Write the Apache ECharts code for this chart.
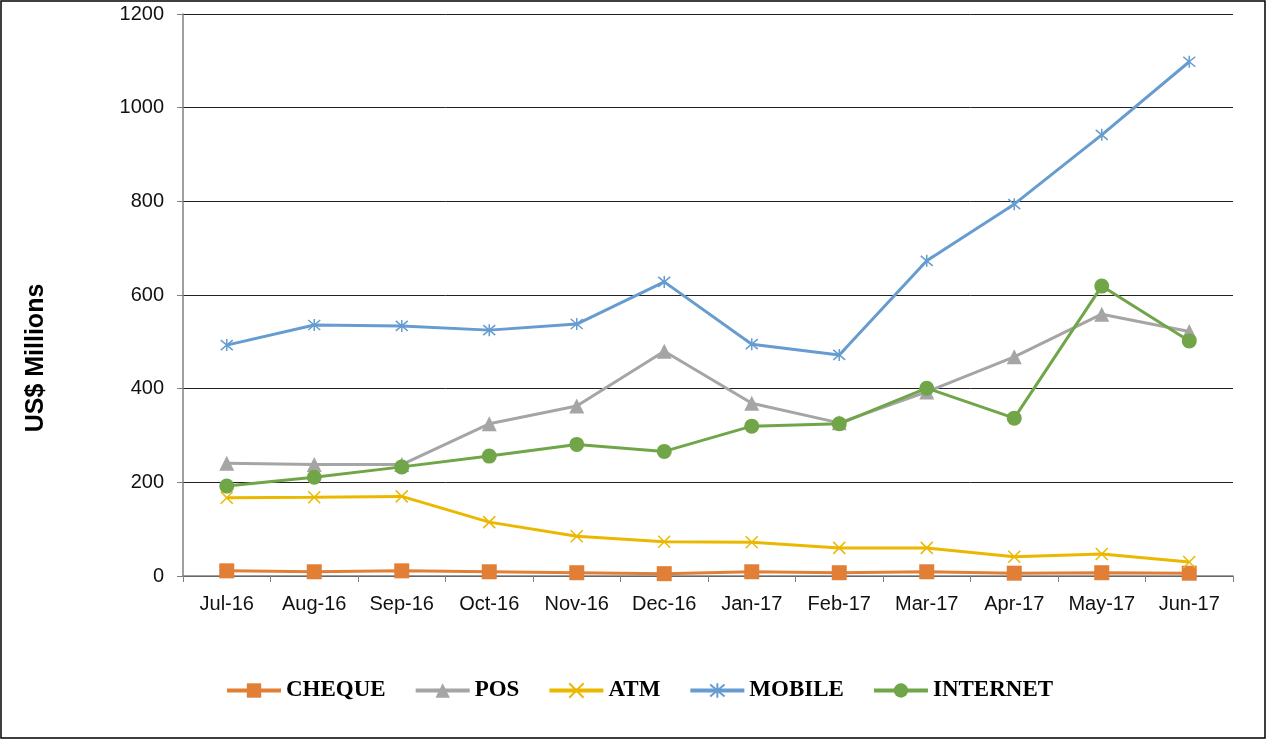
<!DOCTYPE html>
<html>
<head>
<meta charset="utf-8">
<script src="https://cdn.jsdelivr.net/npm/echarts@6/dist/echarts.min.js"></script>
<style>
  html, body { margin: 0; padding: 0; background: #fff; }
  #chart { width: 1267px; height: 740px; }
</style>
</head>
<body>
<div id="chart"></div>
<script>
// months on the x axis
const months = ['Jul-16', 'Aug-16', 'Sep-16', 'Oct-16', 'Nov-16', 'Dec-16',
  'Jan-17', 'Feb-17', 'Mar-17', 'Apr-17', 'May-17', 'Jun-17'];

// values in US$ millions
const cheque = [11, 9, 11, 9, 7, 5, 9, 7, 9, 6, 7, 6];
const pos = [241, 238, 238, 325, 363, 480, 369, 327, 393, 468, 559, 522];
const atm = [167, 168, 170, 115, 85, 73, 72, 60, 60, 41, 47, 30];
const mobile = [493, 536, 534, 525, 538, 628, 495, 472, 673, 794, 942, 1098];
const internet = [192, 211, 233, 256, 281, 266, 320, 325, 401, 337, 619, 502];

const xMark = 'path://M0,0L10,10M10,0L0,10';
const starMark = 'path://M0,0L10,10M10,0L0,10M5,-1L5,11';

const chart = echarts.init(document.getElementById('chart'));

function lineSeries(name, data, color, symbol, size, stroke) {
  const s = {
    name: name,
    type: 'line',
    data: data,
    symbol: symbol,
    symbolSize: size,
    showAllSymbol: true,
    lineStyle: { color: color, width: 3 },
    itemStyle: { color: color },
    emphasis: { disabled: true }
  };
  if (stroke) {
    s.itemStyle = { color: 'none', borderColor: color, borderWidth: 1.5 };
  }
  return s;
}

const option = {
  animation: false,
  grid: { left: 183, right: 34, top: 14, bottom: 164 },
  graphic: [{
    type: 'rect',
    shape: { x: 1, y: 1, width: 1264, height: 737 },
    style: { fill: 'none', stroke: '#000', lineWidth: 1.5 }
  }, {
    type: 'text',
    x: 36,
    y: 358,
    rotation: Math.PI / 2,
    style: {
      text: 'US$ Millions',
      font: 'bold 25px Arial, "Liberation Sans"',
      fill: '#000',
      align: 'center',
      verticalAlign: 'middle'
    }
  }],
  legend: {
    left: 220,
    top: 674,
    itemWidth: 54,
    itemHeight: 18,
    itemGap: 28,
    lineStyle: { width: 4 },
    textStyle: {
      fontFamily: 'Liberation Serif',
      fontWeight: 'bold',
      fontSize: 23,
      color: '#000'
    },
    data: ['CHEQUE', 'POS', 'ATM', 'MOBILE', 'INTERNET']
  },
  xAxis: {
    type: 'category',
    data: months,
    boundaryGap: true,
    axisLine: { lineStyle: { color: '#7f7f7f', width: 1.5 } },
    axisTick: { show: true, length: 6, lineStyle: { color: '#7f7f7f' } },
    axisLabel: {
      fontFamily: 'Arial, Liberation Sans',
      fontSize: 20,
      color: '#111',
      margin: 18,
      interval: 0
    }
  },
  yAxis: {
    type: 'value',
    min: 0,
    max: 1200,
    interval: 200,
    axisLine: { show: true, lineStyle: { color: '#7f7f7f', width: 1.5 } },
    axisTick: { show: true, length: 6, lineStyle: { color: '#7f7f7f' } },
    axisLabel: {
      fontFamily: 'Arial, Liberation Sans',
      fontSize: 20,
      color: '#111',
      margin: 19,
      formatter: function (v) { return String(v); }
    },
    splitLine: { lineStyle: { color: '#222', width: 1 } }
  },
  series: [
    lineSeries('CHEQUE', cheque, '#E07F35', 'rect', 15),
    lineSeries('POS', pos, '#A5A5A5', 'triangle', 15),
    lineSeries('ATM', atm, '#EBB800', xMark, 12, true),
    lineSeries('MOBILE', mobile, '#669CCF', starMark, 12, true),
    lineSeries('INTERNET', internet, '#70A548', 'circle', 15)
  ]
};

chart.setOption(option);
</script>
</body>
</html>
